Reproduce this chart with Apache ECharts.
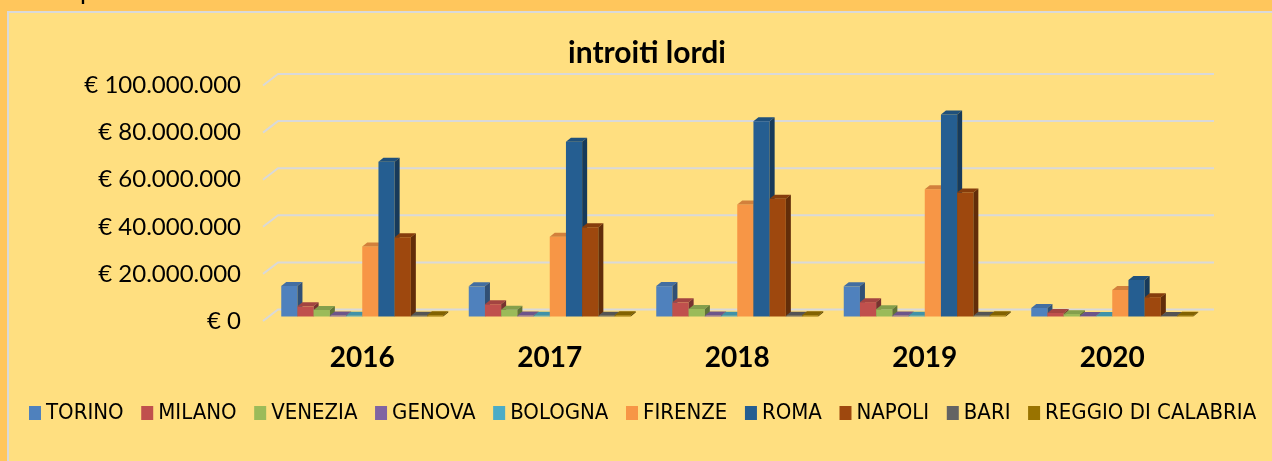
<!DOCTYPE html>
<html>
<head>
<meta charset="utf-8">
<script src="https://cdn.jsdelivr.net/npm/echarts@6/dist/echarts.min.js"></script>
<style>
html,body{margin:0;padding:0;background:#FFC65C;}
#chart{width:1272px;height:461px;}
</style>
</head>
<body>
<div id="chart"></div>
<script>
// anni
var years = ['2016', '2017', '2018', '2019', '2020'];
// città e colori
var cities = ['TORINO', 'MILANO', 'VENEZIA', 'GENOVA', 'BOLOGNA', 'FIRENZE', 'ROMA', 'NAPOLI', 'BARI', 'REGGIO DI CALABRIA'];
var colors = ['#4F81BD', '#C0504D', '#9BBB59', '#8064A2', '#4BACC6', '#F79646', '#255E91', '#9E480E', '#636363', '#997300'];
// introiti lordi per città (euro)
var torino  = [13000000, 12800000, 12900000, 12800000, 3600000];
var milano  = [4300000, 5200000, 6000000, 6100000, 1500000];
var venezia = [2800000, 2900000, 3200000, 3100000, 1000000];
var genova  = [400000, 400000, 400000, 400000, 200000];
var bologna = [300000, 300000, 300000, 300000, 200000];
var firenze = [29700000, 33900000, 47600000, 54000000, 11300000];
var roma    = [65700000, 74200000, 82900000, 85800000, 15500000];
var napoli  = [33600000, 37900000, 50000000, 52700000, 8200000];
var bari    = [300000, 300000, 300000, 300000, 200000];
var reggio  = [500000, 500000, 500000, 500000, 300000];
// tacche asse y
var yTicks = [0, 20000000, 40000000, 60000000, 80000000, 100000000];

var values = [torino, milano, venezia, genova, bologna, firenze, roma, napoli, bari, reggio];

var GAP = 0.136;   // spazio tra gruppi
var DX = 5, DY = 4; // profondità barre

function shade(hex, f){
	var n = parseInt(hex.slice(1), 16);
	var r = Math.round(((n >> 16) & 255) * f);
	var g = Math.round(((n >> 8) & 255) * f);
	var b = Math.round((n & 255) * f);
	return 'rgb(' + r + ',' + g + ',' + b + ')';
}

function euro(v){
	var s = String(Math.round(v)).replace(/\B(?=(\d{3})+(?!\d))/g, '.');
	return '€ ' + s;
}

//barra 3D
function makeBar(i, color){
	return function(params, api){
		var cat = api.value(0), v = api.value(1);
		var base = api.coord([cat, 0]);
		var top = api.coord([cat, v]);
		var band = api.size([1, 0])[0];
		var groupW = band * (1 - GAP);
		var w = groupW / cities.length;
		var x0 = base[0] - groupW / 2 + i * w;
		var yb = base[1], yt = top[1];
		return {
			type: 'group',
			children: [
				{type: 'rect', shape: {x: x0, y: yt, width: w, height: yb - yt}, style: {fill: color}},
				{type: 'polygon', shape: {points: [[x0, yt], [x0 + w, yt], [x0 + w + DX, yt - DY], [x0 + DX, yt - DY]]}, style: {fill: shade(color, 0.85)}},
				{type: 'polygon', shape: {points: [[x0 + w, yt], [x0 + w + DX, yt - DY], [x0 + w + DX, yb - DY], [x0 + w, yb]]}, style: {fill: shade(color, 0.62)}}
			]
		};
	};
}

//griglia di fondo
function renderWall(params, api){
	var cs = params.coordSys;
	var y = api.coord([0, api.value(1)])[1];
	return {
		type: 'polyline',
		shape: {points: [[cs.x - 5.5, y + 4.5], [cs.x + 9.5, y - 7], [cs.x + cs.width + 8, y - 7]]},
		style: {stroke: '#D9D9D9', lineWidth: 2, fill: null}
	};
}

var series = [{
	type: 'custom',
	xAxisIndex: 0, yAxisIndex: 0,
	renderItem: renderWall,
	clip: false,
	silent: true,
	z: 1,
	encode: {x: 0, y: 1},
	data: yTicks.map(function(t){ return [0, t]; })
}];
cities.forEach(function(name, i){
	series.push({
		name: name,
		type: 'custom',
		xAxisIndex: 0, yAxisIndex: 0,
		renderItem: makeBar(i, colors[i]),
		clip: false,
		z: 2,
		itemStyle: {color: colors[i]},
		encode: {x: 0, y: 1},
		data: values[i].map(function(v, k){ return [k, v]; })
	});
});

var myChart = echarts.init(document.getElementById('chart'));
var option = {
	backgroundColor: '#FFC65C',
	graphic: [
		{type: 'rect', z: -10, shape: {x: 8, y: 12, width: 1300, height: 500}, style: {fill: '#FFDF80', stroke: '#D9D9D9', lineWidth: 2}},
		{type: 'text', z: -5, x: 80, y: 3.5, style: {text: 'p', fontFamily: 'Lato', fontSize: 26, fill: '#000', verticalAlign: 'bottom'}}
	],
	title: {
		text: 'introiti lordi',
		left: 642,
		textAlign: 'center',
		top: 33,
		textStyle: {fontFamily: 'Lato', fontWeight: 'bold', fontSize: 30, color: '#000'}
	},
	legend: {
		left: 29,
		top: 402,
		padding: 0,
		itemWidth: 12,
		itemHeight: 14,
		itemGap: 17.6,
		icon: 'rect',
		data: cities,
		textStyle: {fontFamily: 'DejaVu Sans Condensed', fontSize: 22, color: '#000'}
	},
	grid: [
		{left: 268.5, top: 81, width: 937.5, height: 235.5},
		{left: 263, top: 85.5, width: 937.5, height: 235.5}
	],
	xAxis: [
		{
			type: 'category', gridIndex: 0, data: years,
			axisLine: {show: false}, axisTick: {show: false},
			axisLabel: {margin: 27, fontFamily: 'Lato', fontWeight: 'bold', fontSize: 28, color: '#000'}
		},
		{type: 'category', gridIndex: 1, data: years, show: false}
	],
	yAxis: [
		{type: 'value', gridIndex: 0, min: 0, max: 100000000, interval: 20000000, show: false, splitLine: {show: false}},
		{
			type: 'value', gridIndex: 1, min: 0, max: 100000000, interval: 20000000,
			splitLine: {show: false}, axisLine: {show: false}, axisTick: {show: false},
			axisLabel: {margin: 22, formatter: euro, fontFamily: 'Lato', fontSize: 24, color: '#000'}
		}
	],
	series: series
};
myChart.setOption(option);
</script>
</body>
</html>
